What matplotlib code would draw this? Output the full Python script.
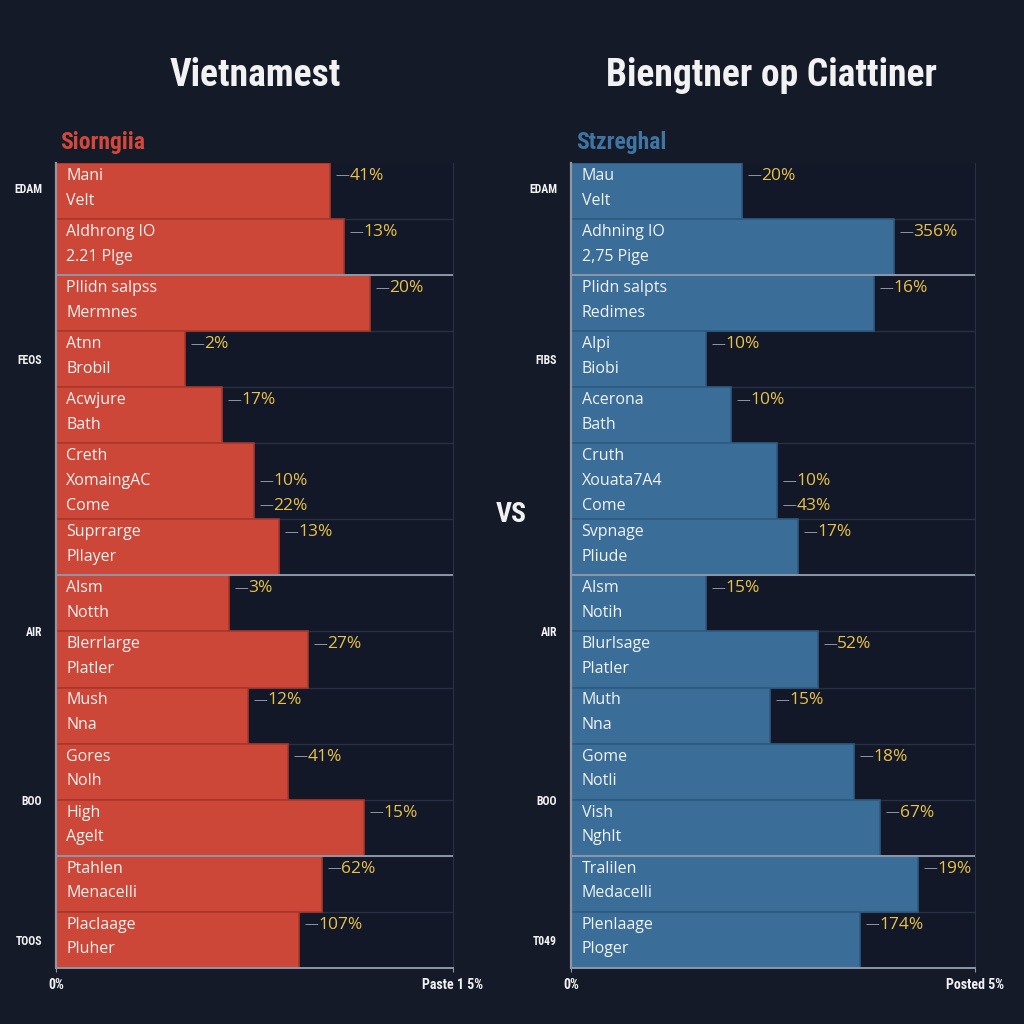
import matplotlib
matplotlib.use("Agg")
import matplotlib.pyplot as plt
from matplotlib import font_manager
import numpy as np

# ---------------- data ----------------
title_left = "Vietnamest"
title_right = "Biengtner op Ciattiner"
subtitle_left = "Siorngiia"
subtitle_right = "Stzreghal"
vs_text = "VS"

left_rows = [["Mani", "Velt"], ["Aldhrong IO", "2.21 Plge"], ["Pllidn salpss", "Mermnes"],
             ["Atnn", "Brobil"], ["Acwjure", "Bath"], ["Creth", "XomaingAC", "Come"],
             ["Suprrarge", "Pllayer"], ["Alsm", "Notth"], ["Blerrlarge", "Platler"],
             ["Mush", "Nna"], ["Gores", "Nolh"], ["High", "Agelt"],
             ["Ptahlen", "Menacelli"], ["Placlaage", "Pluher"]]
left_values = [69.0, 72.5, 79.1, 32.5, 41.8, 49.9, 56.2, 43.6, 63.5, 48.4, 58.4, 77.6, 67.0, 61.2]
left_pct = [["41%"], ["13%"], ["20%"], ["2%"], ["17%"], ["10%", "22%"], ["13%"],
            ["3%"], ["27%"], ["12%"], ["41%"], ["15%"], ["62%"], ["107%"]]

right_rows = [["Mau", "Velt"], ["Adhning IO", "2,75 Pige"], ["Plidn salpts", "Redimes"],
              ["Alpi", "Biobi"], ["Acerona", "Bath"], ["Cruth", "Xouata7A4", "Come"],
              ["Svpnage", "Pliude"], ["Alsm", "Notih"], ["Blurlsage", "Platler"],
              ["Muth", "Nna"], ["Gome", "Notli"], ["Vish", "Nghlt"],
              ["Tralilen", "Medacelli"], ["Plenlaage", "Ploger"]]
right_values = [42.3, 80.0, 75.0, 33.4, 39.6, 51.0, 56.2, 33.4, 61.1, 49.3, 70.0, 76.5, 85.9, 71.5]
right_pct = [["20%"], ["356%"], ["16%"], ["10%"], ["10%"], ["10%", "43%"], ["17%"],
             ["15%"], ["52%"], ["15%"], ["18%"], ["67%"], ["19%"], ["174%"]]

left_groups = ["EDAM", "FEOS", "AIR", "BOO", "TOOS"]
right_groups = ["EDAM", "FIBS", "AIR", "BOO", "T049"]
group_anchor = [0.45, 3.5, 8.0, 11.0, 13.5]     # in row units
major_breaks = [2, 7, 12]                         # rows after which a strong rule is drawn

left_xticks = ["0%", "Paste 1 5%"]
right_xticks = ["0%", "Posted 5%"]

# ---------------- style ----------------
BG = "#141a28"
AX_BG = "#121827"
RED = "#cc4737"
RED_EDGE = "#a8372b"
BLUE = "#3a6e99"
BLUE_EDGE = "#2e5a80"
GRID = "#283043"
RULE = "#8e97a8"
YELLOW = "#e9c24a"
DASH = "#8a92a2"
WHITE = "#f2f2f2"

installed = {f.name for f in font_manager.fontManager.ttflist}


def fams(*names):
    out = [n for n in names if n in installed]
    return out + ["DejaVu Sans"]


NARROW = fams("Roboto Condensed", "Liberation Sans Narrow", "Roboto", "Liberation Sans")
BODY = fams("Open Sans", "Noto Sans")

plt.rcParams["font.family"] = BODY

fig = plt.figure(figsize=(10.24, 10.24), dpi=100, facecolor=BG)

W = 1024.0


def build_panel(rect, rows, values, pcts, groups, xtl, color, edge):
    ax = fig.add_axes(rect)
    ax.set_facecolor(AX_BG)
    heights = np.array([1.35 if len(r) == 3 else 1.0 for r in rows])
    tops = np.concatenate([[0], np.cumsum(heights)[:-1]])
    bottoms = tops + heights
    centers = tops + heights / 2
    total = bottoms[-1]

    for b in bottoms[:-1]:
        ax.axhline(b, color=GRID, lw=1.0, zorder=1)
    ax.barh(centers, values, height=heights, color=color, edgecolor=edge,
            linewidth=1.2, zorder=2)
    for i in major_breaks:
        ax.axhline(bottoms[i - 1], color=RULE, lw=1.4, zorder=3)

    for i, (lines, v, p) in enumerate(zip(rows, values, pcts)):
        for k, t in enumerate(lines):
            ax.text(2.6, tops[i] + 0.23 + 0.44 * k, t, color=WHITE, fontsize=11.5,
                    va="center", ha="left", zorder=4)
        start = len(lines) - 2
        for j, lab in enumerate(p):
            yy = tops[i] + 0.23 + 0.44 * (start + j)
            ax.annotate("—", xy=(v, yy), xytext=(4, 0), textcoords="offset points",
                        color=DASH, fontsize=10, va="center", ha="left", zorder=4)
            ax.annotate(lab, xy=(v, yy), xytext=(14, 0), textcoords="offset points",
                        color=YELLOW, fontsize=12.5, va="center", ha="left", zorder=4)

    ax.set_xlim(0, 100)
    ax.set_ylim(total, 0)

    anchor_y = []
    for a in group_anchor:
        idx = int(np.floor(a))
        frac = a - idx
        anchor_y.append(tops[idx] + frac * heights[idx])
    ax.set_yticks(anchor_y)
    ax.set_yticklabels(groups, color=WHITE, fontsize=8.5, fontweight="bold",
                       family=NARROW)
    ax.tick_params(axis="y", length=0, pad=10)

    ax.set_xticks([0, 100])
    ax.set_xticklabels(xtl, color=WHITE, fontsize=10, fontweight="bold", family=NARROW)
    ax.tick_params(axis="x", length=3, color=RULE, pad=4)

    ax.spines["top"].set_visible(False)
    ax.spines["right"].set_color(GRID)
    ax.spines["left"].set_color(RULE)
    ax.spines["left"].set_linewidth(1.6)
    ax.spines["bottom"].set_color(RULE)
    ax.spines["bottom"].set_linewidth(1.4)
    ax.spines["left"].set_zorder(5)
    return ax


top_px, bot_px = 163, 968
h = (bot_px - top_px) / W
y0 = 1 - bot_px / W
build_panel([56 / W, y0, 397 / W, h], left_rows, left_values, left_pct, left_groups,
            left_xticks, RED, RED_EDGE)
build_panel([571 / W, y0, 404 / W, h], right_rows, right_values, right_pct, right_groups,
            right_xticks, BLUE, BLUE_EDGE)

fig.text(255 / W, 1 - 75 / W, title_left, color=WHITE, fontsize=27, fontweight="bold",
         family=NARROW, ha="center", va="center")
fig.text(771 / W, 1 - 75 / W, title_right, color=WHITE, fontsize=27, fontweight="bold",
         family=NARROW, ha="center", va="center")
fig.text(60 / W, 1 - 143 / W, subtitle_left, color="#d2483a", fontsize=17, fontweight="bold",
         family=NARROW, ha="left", va="center")
fig.text(576 / W, 1 - 143 / W, subtitle_right, color="#3f74a3", fontsize=17, fontweight="bold",
         family=NARROW, ha="left", va="center")
fig.text(511 / W, 1 - 515 / W, vs_text, color=WHITE, fontsize=20, fontweight="bold",
         family=NARROW, ha="center", va="center")

fig.savefig("out.png", dpi=100, facecolor=BG)
